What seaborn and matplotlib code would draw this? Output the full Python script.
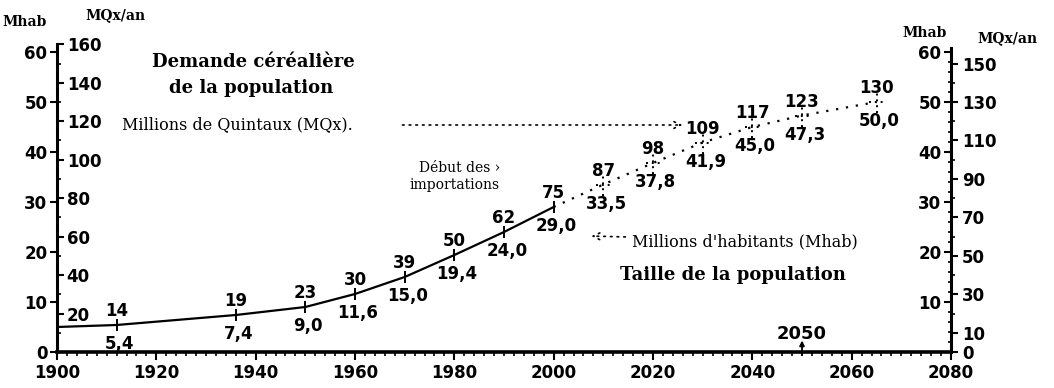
import matplotlib
matplotlib.use("Agg")
import matplotlib.pyplot as plt
import seaborn as sns
from matplotlib.ticker import FixedLocator, MultipleLocator

# Population (millions of inhabitants) and cereal demand (millions of quintals / year)
years = [1900, 1912, 1936, 1950, 1960, 1970, 1980, 1990, 2000,
         2010, 2020, 2030, 2040, 2050, 2065]
population = [5.0, 5.4, 7.4, 9.0, 11.6, 15.0, 19.4, 24.0, 29.0,
              33.5, 37.8, 41.9, 45.0, 47.3, 50.0]
demand = [None, 14, 19, 23, 30, 39, 50, 62, 75,
          87, 98, 109, 117, 123, 130]
last_observed = 2000

x_ticks = list(range(1900, 2081, 20))
mhab_ticks = list(range(0, 61, 10))
mqx_left_ticks = list(range(20, 161, 20))
mqx_right_ticks = [0, 10, 30, 50, 70, 90, 110, 130, 150]

MQX_PER_MHAB = 2.6
MHAB_TOP = 61.6

sns.set_theme(style="white")
plt.rcParams["font.family"] = ["DejaVu Sans"]
for key in ("text.color", "axes.labelcolor", "xtick.color", "ytick.color",
            "axes.edgecolor"):
    plt.rcParams[key] = "black"
num_font = dict(family="DejaVu Sans", weight="bold", size=12)
serif = "DejaVu Serif"

fig = plt.figure(figsize=(10.54, 3.88), dpi=100)
ax = fig.add_axes([57 / 1054, 36 / 388, 894 / 1054, 308 / 388])

obs_x = [y for y in years if y <= last_observed]
obs_y = population[:len(obs_x)]
proj_x = years[len(obs_x) - 1:]
proj_y = population[len(obs_x) - 1:]

# observed part: solid line with tick crosses at labelled years
sns.lineplot(x=obs_x, y=obs_y, ax=ax, color="black", lw=1.6,
             marker="|", markersize=8, markeredgewidth=1.4,
             markeredgecolor="black", markerfacecolor="black",
             markevery=list(range(1, len(obs_x))))
# projected part: dotted line with dotted crosses
sns.lineplot(x=proj_x, y=proj_y, ax=ax, color="black", lw=1.6,
             linestyle=(0, (1, 3.5)))
ax.vlines(proj_x[1:], [p - 2.2 for p in proj_y[1:]], [p + 2.2 for p in proj_y[1:]],
          colors="black", linestyles=(0, (1, 2)), lw=1.4)
ax.hlines(proj_y[1:], [x - 1.5 for x in proj_x[1:]], [x + 1.5 for x in proj_x[1:]],
          colors="black", linestyles=(0, (1, 2)), lw=1.4)

# value labels: demand above, population below
for yr, p, d in zip(years, population, demand):
    if d is None:
        continue
    ax.annotate(f"{d}", (yr, p), xytext=(0, 10), textcoords="offset points",
                ha="center", va="center", fontsize=12, fontweight="bold")
    ax.annotate(f"{p:.1f}".replace(".", ","), (yr, p), xytext=(2, -14),
                textcoords="offset points", ha="center", va="center",
                fontsize=12, fontweight="bold")

ax.set_xlim(1900, 2080)
ax.set_ylim(0, MHAB_TOP)
ax.xaxis.set_major_locator(FixedLocator(x_ticks))
ax.xaxis.set_minor_locator(MultipleLocator(2))
ax.yaxis.set_major_locator(FixedLocator(mhab_ticks))
ax.set_xticklabels([str(t) for t in x_ticks], fontdict=num_font)
ax.set_yticklabels([str(t) for t in mhab_ticks], fontdict=num_font)
ax.tick_params(axis="x", which="major", direction="out", length=6, width=1.5, pad=3,
               bottom=True)
ax.tick_params(axis="x", which="minor", direction="out", length=3, width=1.2,
               bottom=True)
ax.tick_params(axis="y", which="major", direction="out", length=5, width=1.5, pad=2,
               left=True)
for s in ("top", "right"):
    ax.spines[s].set_visible(False)
ax.spines["bottom"].set_linewidth(2.6)
ax.spines["left"].set_linewidth(2.2)
for s in ("bottom", "left"):
    ax.spines[s].set_color("black")
ax.grid(False)

# left cereal-demand scale, labels to the right of the left spine
ax_ql = ax.twinx()
ax_ql.set_ylim(0, MHAB_TOP * MQX_PER_MHAB)
ax_ql.spines["right"].set_position(("axes", 0))
for s in ax_ql.spines.values():
    s.set_visible(False)
ax_ql.yaxis.set_major_locator(FixedLocator(mqx_left_ticks))
ax_ql.yaxis.set_minor_locator(MultipleLocator(10))
ax_ql.set_yticklabels([str(t) for t in mqx_left_ticks], fontdict=num_font)
ax_ql.tick_params(axis="y", which="major", direction="out", length=5, width=1.5, pad=2)
ax_ql.tick_params(axis="y", which="minor", direction="out", length=3, width=1.2)
ax_ql.grid(False)

# right population scale, labels to the left of the right spine
ax_pr = ax.twinx()
ax_pr.set_ylim(0, MHAB_TOP)
ax_pr.yaxis.tick_left()
ax_pr.spines["left"].set_position(("axes", 1))
for n, s in ax_pr.spines.items():
    s.set_visible(n == "left")
ax_pr.spines["left"].set_linewidth(2.2)
ax_pr.spines["left"].set_color("black")
ax_pr.spines["left"].set_bounds(0, 60.8)
ax_pr.yaxis.set_major_locator(FixedLocator(mhab_ticks[1:]))
ax_pr.yaxis.set_minor_locator(MultipleLocator(2))
ax_pr.set_yticklabels([str(t) for t in mhab_ticks[1:]], fontdict=num_font)
ax_pr.tick_params(axis="y", which="major", direction="out", length=5, width=1.5, pad=2)
ax_pr.tick_params(axis="y", which="minor", direction="out", length=2.5, width=1.2)
ax_pr.grid(False)

# right cereal-demand scale
ax_qr = ax.twinx()
ax_qr.set_ylim(0, MHAB_TOP * MQX_PER_MHAB)
for s in ax_qr.spines.values():
    s.set_visible(False)
ax_qr.yaxis.set_major_locator(FixedLocator(mqx_right_ticks))
ax_qr.yaxis.set_minor_locator(FixedLocator(list(range(20, 141, 20))))
ax_qr.set_yticklabels([str(t) for t in mqx_right_ticks], fontdict=num_font)
ax_qr.tick_params(axis="y", which="major", direction="out", length=5, width=1.5, pad=3)
ax_qr.tick_params(axis="y", which="minor", direction="out", length=3, width=1.2)
ax_qr.grid(False)

# unit headers
fig.text(25 / 1054, 1 - 22 / 388, "Mhab", family=serif, weight="bold", size=10,
         ha="center", va="center")
fig.text(115 / 1054, 1 - 15 / 388, "MQx/an", family=serif, weight="bold", size=10,
         ha="center", va="center")
fig.text(925 / 1054, 1 - 33 / 388, "Mhab", family=serif, weight="bold", size=10,
         ha="center", va="center")
fig.text(1007 / 1054, 1 - 38 / 388, "MQx/an", family=serif, weight="bold", size=10,
         ha="center", va="center")

# titles and annotations
ax.text(1939.5, 58.0, "Demande céréalière", family=serif, weight="bold", size=13,
        ha="center", va="center")
ax.text(1939.0, 52.8, "de la population", family=serif, weight="bold", size=13,
        ha="center", va="center")
ax.text(1913.0, 45.4, "Millions de Quintaux (MQx).", family=serif, size=11.5,
        ha="left", va="center")
ax.annotate("", xy=(2026.5, 45.4), xytext=(1969.0, 45.4),
            arrowprops=dict(arrowstyle="->", color="black", lw=1.2,
                            linestyle=(0, (1, 3))))

ax.text(1989.2, 36.8, "Début des ›", family=serif, size=10, ha="right", va="center")
ax.text(1989.2, 33.4, "importations", family=serif, size=10, ha="right", va="center")

ax.text(2015.8, 22.0, "Millions d'habitants (Mhab)", family=serif, size=11.5,
        ha="left", va="center")
ax.annotate("", xy=(2007.0, 23.2), xytext=(2015.0, 23.0),
            arrowprops=dict(arrowstyle="->", color="black", lw=1.2,
                            linestyle=(0, (1, 3))))
ax.text(2013.3, 15.4, "Taille de la population", family=serif, weight="bold",
        size=13, ha="left", va="center")

ax.text(2050, 3.6, "2050", ha="center", va="center",
        family="DejaVu Sans", weight="bold", size=13)
ax.annotate("", xy=(2050, 2.3), xytext=(2050, -0.6),
            arrowprops=dict(arrowstyle="-|>", color="black", lw=1.3, shrinkA=0,
                            shrinkB=0, mutation_scale=7))

fig.savefig("out.png", dpi=100)
